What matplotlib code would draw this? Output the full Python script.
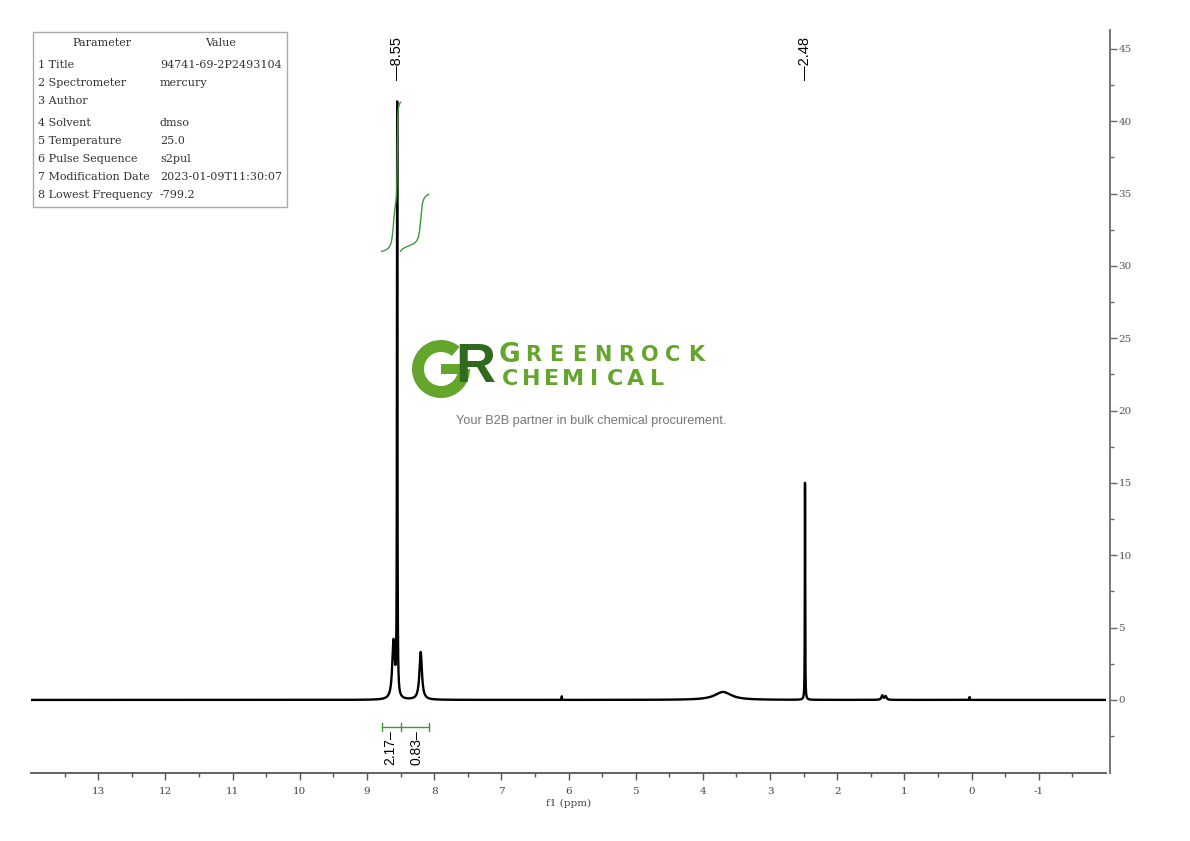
import numpy as np
import matplotlib
matplotlib.use("Agg")
import matplotlib.pyplot as plt
from matplotlib.patches import Rectangle, Wedge
from matplotlib.ticker import FixedLocator
import matplotlib.transforms as mtransforms

plt.rcParams["axes.unicode_minus"] = False

# peak list (ppm, height, half width)
peak_ppm = [8.605, 8.55, 8.20, 3.70, 2.48, 1.33, 1.28, 6.10, 0.03]
peak_height = [4.0, 40.8, 3.3, 0.55, 15.0, 0.30, 0.25, 0.25, 0.2]
peak_width = [0.022, 0.004, 0.022, 0.15, 0.003, 0.015, 0.015, 0.002, 0.002]

# integral regions (ppm start, ppm end) and their values
integral_from = [8.78, 8.50]
integral_to = [8.50, 8.08]
integral_value = [2.17, 0.83]

peak_labels = [8.55, 2.48]

params = ["1 Title", "2 Spectrometer", "3 Author", "4 Solvent", "5 Temperature",
          "6 Pulse Sequence", "7 Modification Date", "8 Lowest Frequency"]
values = ["94741-69-2P2493104", "mercury", "", "dmso", "25.0", "s2pul",
          "2023-01-09T11:30:07", "-799.2"]

x_major = list(range(-1, 14))
y_major = list(range(0, 50, 5))

ppm = np.linspace(14, -2, 32001)
spec = np.zeros_like(ppm)
for c, h, w in zip(peak_ppm, peak_height, peak_width):
    spec += h * w**2 / ((ppm - c)**2 + w**2)

fig = plt.figure(figsize=(11.9, 8.41), dpi=100)
ax = fig.add_axes([31 / 1190, 1 - 773 / 841, 1075 / 1190, 743 / 841])
ax.plot(ppm, spec, color="black", lw=1.7)
ax.set_xlim(14, -2)
ax.set_ylim(-5.05, 46.3)

# integral curves
base = 31.0
k = 4.75
for a, b, v in zip(integral_from, integral_to, integral_value):
    m = (ppm <= a) & (ppm >= b)
    cum = np.cumsum(spec[m])
    ax.plot(ppm[m], base + v * k * cum / cum[-1], color="#3a9a3a", lw=1.0)

# integral bar under the peaks
bar_y = -1.87
ax.plot([integral_from[0], integral_to[-1]], [bar_y, bar_y], color="#3a9a3a", lw=1.0)
for e in [integral_from[0]] + integral_to:
    ax.plot([e, e], [bar_y - 0.3, bar_y + 0.3], color="#3a9a3a", lw=1.0)
for a, b, v in zip(integral_from, integral_to, integral_value):
    ax.text((a + b) / 2 + (0.02 if v > 1 else -0.03), bar_y - 0.25, "%.2f\u2013" % v,
            rotation=90, ha="center", va="top", fontsize=10,
            family="Liberation Sans")

# peak labels at top
trans = mtransforms.blended_transform_factory(ax.transData, ax.transAxes)
for p in peak_labels:
    ax.text(p, 0.933, "\u2014%.2f" % p, rotation=90, ha="center", va="bottom",
            fontsize=10.5, family="Liberation Sans", transform=trans)

# axes styling
for s in ["top", "left"]:
    ax.spines[s].set_visible(False)
ax.spines["right"].set_color("#777777")
ax.spines["right"].set_linewidth(1.4)
ax.spines["right"].set_position(("outward", 3))
ax.spines["bottom"].set_color("#555555")
ax.spines["bottom"].set_linewidth(1.3)
ax.yaxis.tick_right()
ax.yaxis.set_major_locator(FixedLocator(y_major))
ax.yaxis.set_minor_locator(FixedLocator([y - 2.5 for y in y_major]))
ax.xaxis.set_major_locator(FixedLocator(x_major))
ax.xaxis.set_minor_locator(FixedLocator([x + 0.5 for x in range(-2, 14)]))
ax.tick_params(axis="y", which="major", length=5, width=1, color="#666666",
               labelsize=7.5, labelcolor="#555555", pad=1)
ax.tick_params(axis="y", which="minor", length=3, width=1, color="#666666")
ax.tick_params(axis="x", which="major", length=5, width=1, color="#555555",
               labelsize=7.5, labelcolor="#444444", pad=5)
ax.tick_params(axis="x", which="minor", length=3, width=1, color="#555555")
for lab in ax.get_xticklabels() + ax.get_yticklabels():
    lab.set_family("DejaVu Serif")
ax.set_xlabel("f1 (ppm)", fontsize=7.5, family="DejaVu Serif",
              color="#444444", labelpad=2)
ax.patch.set_alpha(0)

# overlay in pixel coordinates for the parameter table and watermark
ov = fig.add_axes([0, 0, 1, 1])
ov.set_xlim(0, 1190)
ov.set_ylim(841, 0)
ov.axis("off")
ov.patch.set_alpha(0)

ov.add_patch(Rectangle((33, 32), 254, 175, fill=False, ec="#aaaaaa", lw=1))
tf = dict(fontsize=8, family="DejaVu Serif", color="#333333", va="center")
ov.text(102, 43, "Parameter", ha="center", **tf)
ov.text(221, 43, "Value", ha="center", **tf)
row_y = [65, 83, 101, 123, 141, 159, 177, 195]
for y, p, v in zip(row_y, params, values):
    ov.text(38, y, p, ha="left", **tf)
    ov.text(160, y, v, ha="left", **tf)

# watermark logo
green = "#64a52c"
dark = "#2f6a1e"
ov.add_patch(Wedge((441, 369), 29, 0, 310, width=12, color=green, lw=0))
ov.add_patch(Rectangle((441, 364), 24, 10, color=green, lw=0))
ov.text(475, 368, "R", fontsize=40, fontweight="bold", family="Liberation Sans",
        color=dark, ha="center", va="center")
ov.text(510, 362, "G", fontsize=19, fontweight="bold", family="DejaVu Sans",
        color=green, ha="center", va="baseline")
for i, ch in enumerate("REENROCK"):
    ov.text(533 + i * 23.3, 361, ch, fontsize=15, fontweight="bold",
            family="DejaVu Sans", color=green, ha="center", va="baseline")
for i, ch in enumerate("CHEMICAL"):
    ov.text(510 + i * 21.0, 385, ch, fontsize=16, fontweight="bold",
            family="DejaVu Sans", color=green, ha="center", va="baseline")
ov.text(456, 421, "Your B2B partner in bulk chemical procurement.", fontsize=9.2,
        family="Liberation Sans", color="#777777", ha="left", va="center")

fig.savefig("out.png", dpi=100)
